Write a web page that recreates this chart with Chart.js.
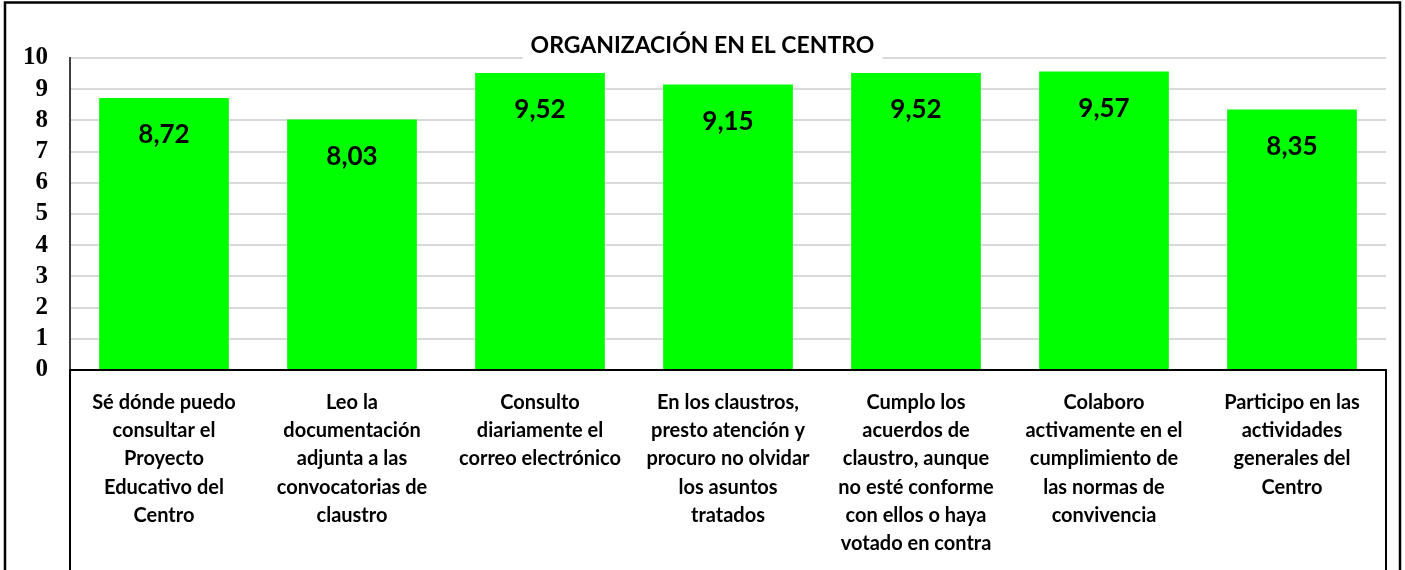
<!DOCTYPE html>
<html lang="es">
<head>
<meta charset="utf-8">
<title>Organización en el centro</title>
<script src="https://cdn.jsdelivr.net/npm/chart.js@4.4.1/dist/chart.umd.min.js"></script>
<style>
    html, body { margin: 0; padding: 0; background: #fff; }
    #wrap { position: relative; width: 1405px; height: 570px; }
</style>
</head>
<body>
<div id="wrap"><canvas id="orgChart"></canvas></div>
<script>
const chartTitle = 'ORGANIZACIÓN EN EL CENTRO';

// one entry per bar, already split in lines like the original
const categories = [
    ['Sé dónde puedo', 'consultar el', 'Proyecto', 'Educativo del', 'Centro'],
    ['Leo la', 'documentación', 'adjunta a las', 'convocatorias de', 'claustro'],
    ['Consulto', 'diariamente el', 'correo electrónico'],
    ['En los claustros,', 'presto atención y', 'procuro no olvidar', 'los asuntos', 'tratados'],
    ['Cumplo los', 'acuerdos de', 'claustro, aunque', 'no esté conforme', 'con ellos o haya', 'votado en contra'],
    ['Colaboro', 'activamente en el', 'cumplimiento de', 'las normas de', 'convivencia'],
    ['Participo en las', 'actividades', 'generales del', 'Centro']
];
const scores = [8.72, 8.03, 9.52, 9.15, 9.52, 9.57, 8.35];
const yMin = 0;
const yMax = 10;
const yStep = 1;

const LABEL_FONT = 'Lato, "Open Sans", sans-serif';

// values written inside the top of each bar, decimal comma
const barValues = {
    id: 'barValues',
    afterDatasetsDraw(chart) {
        const ctx = chart.ctx;
        const meta = chart.getDatasetMeta(0);
        ctx.save();
        ctx.font = 'bold 26px ' + LABEL_FONT;
        ctx.fillStyle = '#000';
        ctx.textAlign = 'center';
        ctx.textBaseline = 'middle';
        meta.data.forEach((bar, i) => {
            const txt = scores[i].toFixed(2).replace('.', ',');
            ctx.fillText(txt, bar.x, bar.y + 37);
        });
        ctx.restore();
    }
};

// outer frame, box round the category labels and the title over the plot
const decorations = {
    id: 'decorations',
    afterDraw(chart) {
        const ctx = chart.ctx;
        const area = chart.chartArea;
        ctx.save();

        ctx.strokeStyle = '#000';
        ctx.lineWidth = 2;
        ctx.beginPath();
        ctx.moveTo(area.left, area.bottom);
        ctx.lineTo(area.left, chart.height + 5);
        ctx.moveTo(area.right, area.bottom);
        ctx.lineTo(area.right, chart.height + 5);
        ctx.moveTo(area.left - 1, area.bottom);
        ctx.lineTo(area.right + 1, area.bottom);
        ctx.stroke();

        ctx.lineWidth = 2.5;
        ctx.strokeRect(5, 2.5, chart.width - 10, chart.height + 20);

        ctx.font = 'bold 23px ' + LABEL_FONT;
        const w = ctx.measureText(chartTitle).width;
        const cx = chart.width / 2;
        ctx.fillStyle = '#fff';
        ctx.fillRect(cx - w / 2 - 8, 33, w + 16, 28);
        ctx.fillStyle = '#000';
        ctx.textAlign = 'center';
        ctx.textBaseline = 'middle';
        ctx.fillText(chartTitle, cx, 46);

        ctx.restore();
    }
};

const ctx = document.getElementById('orgChart').getContext('2d');
new Chart(ctx, {
    type: 'bar',
    data: {
        labels: categories,
        datasets: [{
            data: scores,
            backgroundColor: '#00ff00',
            borderWidth: 0,
            categoryPercentage: 1,
            barPercentage: 0.69
        }]
    },
    options: {
        responsive: true,
        maintainAspectRatio: false,
        animation: false,
        devicePixelRatio: 1,
        layout: {
            padding: { left: 0, top: 58, right: 19, bottom: 0 }
        },
        plugins: {
            legend: { display: false },
            title: { display: false },
            tooltip: { enabled: false }
        },
        scales: {
            x: {
                grid: { display: false, drawTicks: false },
                border: { display: false },
                ticks: {
                    autoSkip: false,
                    maxRotation: 0,
                    minRotation: 0,
                    padding: 18,
                    color: '#000',
                    font: { family: LABEL_FONT, size: 20, weight: 'bold', lineHeight: 1.415 }
                },
                afterFit(scale) { scale.height = 200; }
            },
            y: {
                min: yMin,
                max: yMax,
                ticks: {
                    stepSize: yStep,
                    autoSkip: false,
                    padding: 22,
                    color: '#000',
                    font: { family: '"Liberation Serif", serif', size: 25, weight: 'bold', lineHeight: 1 }
                },
                grid: {
                    drawTicks: false,
                    lineWidth: 2,
                    color: (c) => (c.tick && c.tick.value === 0) ? 'rgba(0,0,0,0)' : '#d9d9d9'
                },
                border: { display: true, color: '#404040', width: 2 },
                afterFit(scale) { scale.width = 70; }
            }
        }
    },
    plugins: [barValues, decorations]
});
</script>
</body>
</html>
